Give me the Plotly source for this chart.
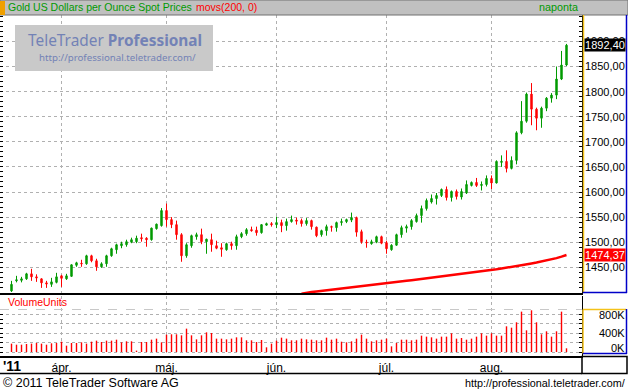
import pandas as pd
import plotly.graph_objects as go

# ---------------- data ----------------
dates = pd.bdate_range("2011-03-18", "2011-08-22")
month_labels = ["ápr.", "máj.", "jún.", "júl.", "aug."]

open_ = [1403, 1423, 1424, 1427, 1437, 1431, 1427, 1419, 1416, 1420,
         1433, 1427, 1432, 1454, 1458, 1457, 1473, 1463, 1451, 1457,
         1473, 1485, 1493, 1495, 1500, 1501, 1509, 1508, 1505, 1527,
         1533, 1563, 1545, 1535, 1515, 1473, 1493, 1511, 1515, 1501,
         1505, 1493, 1489, 1485, 1497, 1493, 1511, 1517, 1525, 1524,
         1519, 1534, 1537, 1535, 1539, 1533, 1541, 1544, 1543, 1537,
         1543, 1530, 1515, 1523, 1531, 1529, 1539, 1541, 1544, 1549,
         1521, 1500, 1497, 1500, 1511, 1499, 1485, 1494, 1515, 1528,
         1531, 1541, 1553, 1567, 1580, 1587, 1593, 1605, 1589, 1601,
         1590, 1598, 1613, 1619, 1613, 1615, 1627, 1618, 1659, 1661,
         1647, 1663, 1718, 1741, 1795, 1765, 1747, 1767, 1787, 1793,
         1825, 1853]
high = [1423, 1433, 1431, 1439, 1447, 1436, 1428, 1423, 1429, 1439,
        1435, 1437, 1456, 1461, 1465, 1475, 1475, 1467, 1460, 1475,
        1489, 1497, 1501, 1505, 1509, 1513, 1517, 1510, 1529, 1537,
        1568, 1577, 1550, 1543, 1518, 1498, 1515, 1519, 1527, 1507,
        1517, 1503, 1498, 1499, 1501, 1515, 1520, 1528, 1531, 1531,
        1536, 1539, 1540, 1551, 1545, 1547, 1553, 1549, 1547, 1548,
        1545, 1531, 1525, 1535, 1533, 1541, 1547, 1547, 1559, 1551,
        1525, 1505, 1505, 1513, 1513, 1503, 1496, 1517, 1533, 1535,
        1546, 1557, 1573, 1587, 1595, 1598, 1607, 1611, 1603, 1605,
        1607, 1623, 1621, 1628, 1621, 1633, 1633, 1663, 1673, 1683,
        1671, 1721, 1781, 1798, 1817, 1768, 1770, 1789, 1797, 1850,
        1881, 1895]
low = [1401, 1420, 1420, 1425, 1423, 1421, 1409, 1409, 1411, 1418,
       1411, 1425, 1431, 1451, 1451, 1455, 1460, 1443, 1449, 1451,
       1471, 1477, 1488, 1491, 1498, 1498, 1501, 1491, 1503, 1525,
       1531, 1531, 1528, 1505, 1461, 1469, 1489, 1505, 1496, 1477,
       1481, 1486, 1471, 1483, 1485, 1485, 1508, 1513, 1521, 1513,
       1517, 1533, 1531, 1528, 1520, 1523, 1539, 1535, 1531, 1533,
       1525, 1510, 1511, 1513, 1521, 1521, 1533, 1538, 1540, 1511,
       1497, 1489, 1495, 1498, 1496, 1477, 1483, 1493, 1509, 1519,
       1525, 1539, 1539, 1563, 1577, 1575, 1590, 1583, 1581, 1585,
       1585, 1596, 1611, 1610, 1603, 1611, 1606, 1617, 1650, 1639,
       1645, 1655, 1715, 1738, 1733, 1723, 1728, 1761, 1778, 1785,
       1823, 1851]
close = [1416, 1425, 1427, 1437, 1431, 1429, 1419, 1417, 1421, 1431,
         1428, 1433, 1455, 1459, 1457, 1473, 1463, 1451, 1457, 1473,
         1487, 1495, 1497, 1501, 1505, 1508, 1507, 1505, 1528, 1536,
         1563, 1545, 1535, 1515, 1473, 1495, 1513, 1515, 1501, 1506,
         1495, 1488, 1486, 1497, 1493, 1511, 1517, 1525, 1523, 1519,
         1535, 1537, 1535, 1539, 1533, 1541, 1545, 1542, 1537, 1543,
         1531, 1513, 1523, 1531, 1530, 1539, 1541, 1545, 1549, 1520,
         1501, 1499, 1501, 1511, 1498, 1487, 1494, 1515, 1529, 1531,
         1543, 1553, 1567, 1583, 1587, 1593, 1605, 1589, 1601, 1591,
         1601, 1615, 1619, 1613, 1615, 1627, 1618, 1661, 1661, 1647,
         1663, 1718, 1741, 1795, 1765, 1747, 1767, 1787, 1793, 1825,
         1853, 1892.40]

# 200-day moving average (only the visible part is known)
ma200 = [None] * 58 + [
    1397.5, 1399.5, 1400.6, 1401.9, 1403.0, 1404.1, 1405.3, 1406.5, 1407.6,
    1408.8, 1410.0, 1411.2, 1412.4, 1413.5, 1414.6, 1415.8, 1417.0, 1418.3, 1419.4,
    1420.6, 1421.9, 1423.1, 1424.3, 1425.5, 1426.8, 1428.0, 1429.3, 1430.6, 1431.8,
    1433.0, 1434.3, 1435.5, 1436.8, 1438.0, 1439.3, 1440.6, 1441.8, 1443.1, 1444.5,
    1446.0, 1447.6, 1449.1, 1450.7, 1452.3, 1454.0, 1455.8, 1457.7, 1459.6, 1461.6,
    1463.6, 1465.8, 1468.3, 1471.2, 1474.37]

volume = [179, 157, 157, 171, 179, 193, 179, 157, 186, 193,
          221, 136, 193, 193, 207, 179, 221, 243, 214, 243,
          243, 264, 207, 229, 229, 29, 214, 214, 264, 286,
          207, 371, 379, 379, 357, 500, 357, 271, 357, 421,
          407, 286, 286, 271, 286, 314, 314, 250, 250, 214,
          257, 100, 179, 243, 307, 286, 250, 250, 286, 271,
          264, 250, 250, 307, 264, 286, 221, 207, 229, 286,
          371, 286, 229, 250, 264, 286, 121, 193, 264, 264,
          250, 264, 350, 329, 314, 286, 329, 329, 400, 286,
          300, 264, 286, 329, 400, 350, 400, 350, 350, 550,
          521, 636, 864, 464, 893, 636, 379, 443, 329, 443,
          864, 79]
volume = [v * 1000 for v in volume]

price_ticks = [1450, 1500, 1550, 1600, 1650, 1700, 1750, 1800, 1850, 1900]
vol_grid = [0, 200000, 400000, 600000, 800000]
vol_label_vals = [0, 400000, 800000]
vol_label_text = ["0K", "400K", "800K"]

# ---------------- styling ----------------
W, H = 628, 392
GREEN = "#009a00"
RED = "#ff0000"
GRID = "#b0b0b0"
YELLOW = "#f4c21a"
BLUE = "#0000c8"
ARIAL = "Liberation Sans, Arial, sans-serif"
WM = "Noto Sans, DejaVu Sans, sans-serif"
WM_COLOR = "#7382b6"


def px(x):
    return x / W


def py(y):
    return 1 - y / H


x = list(range(len(dates)))
month_idx = [i for i in range(1, len(dates)) if dates[i].month != dates[i - 1].month]

fig = go.Figure()
fig.add_trace(go.Candlestick(
    x=x, open=open_, high=high, low=low, close=close,
    increasing=dict(line=dict(color=GREEN, width=1), fillcolor=GREEN),
    decreasing=dict(line=dict(color=RED, width=1), fillcolor=RED),
    whiskerwidth=0, xaxis="x", yaxis="y", hoverinfo="skip", showlegend=False))
fig.add_trace(go.Scatter(
    x=x, y=ma200, mode="lines", line=dict(color=RED, width=2.5),
    xaxis="x", yaxis="y", hoverinfo="skip", showlegend=False))
fig.add_trace(go.Bar(
    x=x, y=volume, width=0.28, marker=dict(color=RED, line=dict(width=0)),
    xaxis="x2", yaxis="y2", hoverinfo="skip", showlegend=False))

xdom = [0, px(582)]
xr = [-2.3, 114.1]
common_x = dict(domain=xdom, range=xr, tickmode="array", tickvals=month_idx,
                showgrid=True, gridcolor=GRID, griddash="dot", gridwidth=1,
                showline=True, linecolor="black", linewidth=2, zeroline=False,
                ticks="", fixedrange=True)

fig.update_layout(
    width=W, height=H, margin=dict(l=0, r=0, t=0, b=0),
    paper_bgcolor="white", plot_bgcolor="white",
    separators=",.", boxgap=0.6, showlegend=False,
    font=dict(family=ARIAL, color="black"),
    xaxis=dict(**common_x, anchor="y", showticklabels=False,
               rangeslider=dict(visible=False)),
    xaxis2=dict(**common_x, anchor="y2", ticktext=month_labels,
                tickfont=dict(family=ARIAL, size=12, color="black")),
    yaxis=dict(domain=[py(293), py(15)], range=[1398.8, 1952.6], side="right",
               anchor="x", tickmode="array", tickvals=price_ticks,
               showticklabels=False, ticks="inside", ticklen=3, tickcolor="black",
               showline=True, linecolor="black", linewidth=1, mirror="ticks",
               showgrid=True, gridcolor=GRID, griddash="dot", zeroline=False,
               minor=dict(dtick=10, tick0=0, ticks="inside", ticklen=3,
                          tickcolor="black", showgrid=False),
               fixedrange=True),
    yaxis2=dict(domain=[py(356), py(296)], range=[-85653, 1199143], side="right",
                anchor="x2", tickmode="array", tickvals=vol_grid,
                showticklabels=False, ticks="inside", ticklen=3, tickcolor="black",
                showline=True, linecolor="black", linewidth=1, mirror="ticks",
                showgrid=True, gridcolor=GRID, griddash="dot", zeroline=False,
                minor=dict(tickmode="array",
                           tickvals=[k * 100000 for k in range(10)],
                           ticks="inside", ticklen=3, tickcolor="black",
                           showgrid=False),
                fixedrange=True),
)

shapes = []


def line(x0, y0, x1, y1, color, w=1, dash=None):
    d = dict(type="line", xref="paper", yref="paper", x0=px(x0), y0=py(y0),
             x1=px(x1), y1=py(y1), line=dict(color=color, width=w), layer="above")
    if dash:
        d["line"]["dash"] = dash
    shapes.append(d)


# header bar
shapes.append(dict(type="rect", xref="paper", yref="paper", x0=px(0), x1=px(628),
                   y0=py(15), y1=py(0), fillcolor="#c0c0c0",
                   line=dict(color="#707070", width=1), layer="above"))
shapes.append(dict(type="rect", xref="paper", yref="paper", x0=px(0), x1=px(5),
                   y0=py(15), y1=py(1), fillcolor="#f0a000",
                   line=dict(width=0), layer="above"))
# watermark box
shapes.append(dict(type="rect", xref="paper", yref="paper", x0=px(15), x1=px(213),
                   y0=py(71), y1=py(25), fillcolor="#c9c9c9",
                   line=dict(width=0), layer="above"))
# price label panel
line(583.5, 15, 583.5, 292.5, YELLOW, 1.5)
line(626.5, 15, 626.5, 293, BLUE, 1.5)
line(583, 292.5, 627, 292.5, BLUE, 1.5)
# volume label panel
line(583, 309.5, 626, 309.5, YELLOW, 1.5)
line(583, 309.5, 583, 353.5, YELLOW, 1.5)
line(626.5, 309, 626.5, 354, BLUE, 1.5)
line(583, 353.5, 627, 353.5, BLUE, 1.5)
# extra dashed reference line in volume panel
line(0, 309.5, 582, 309.5, "#c8c8c8", 1, "dash")
# date row frame
line(0, 373.5, 582, 373.5, "black", 1.5)
shapes.append(dict(type="rect", xref="paper", yref="paper", x0=px(582), x1=px(627),
                   y0=py(373.5), y1=py(356.5), fillcolor="rgba(0,0,0,0)",
                   line=dict(color="black", width=1.5), layer="above"))
fig.update_layout(shapes=shapes)

ann = []


def text(x, y, s, size, color, family=ARIAL, xanchor="left", **kw):
    ann.append(dict(xref="paper", yref="paper", x=px(x), y=py(y), text=s,
                    showarrow=False, xanchor=xanchor, yanchor="middle",
                    font=dict(family=family, size=size, color=color), **kw))


text(6, 7.5, "Gold US Dollars per Ounce Spot Prices", 10.5, "#009a00")
text(194, 7.5, "movs(200, 0)", 10.5, RED)
text(580, 7.5, "naponta", 10.8, "#009a00", xanchor="right")
text(6, 302, "VolumeUnits", 10.5, RED)
text(26, 41, "TeleTrader <b>Professional</b>", 15.4, WM_COLOR, family=WM)
text(198, 57, "http://professional.teletrader.com/", 9.7, WM_COLOR,
     family=WM, xanchor="right")
text(1, 366, "<b>'11</b>", 14, "black")
text(1, 382.5, "© 2011 TeleTrader Software AG", 12.5, "black")
text(627, 382.5, "http://professional.teletrader.com/", 10.8, "black", xanchor="right")

# price scale labels
for v in price_ticks:
    ann.append(dict(xref="paper", yref="y", x=px(625.5), y=v, xanchor="right",
                    yanchor="middle", text=f"{v:.2f}".replace(".", ","),
                    showarrow=False, borderpad=0,
                    font=dict(family=ARIAL, size=11, color="black")))
# volume scale labels
for v, t in zip(vol_label_vals, vol_label_text):
    ann.append(dict(xref="paper", yref="y2", x=px(625.5), y=v, xanchor="right",
                    yanchor="middle", text=t, showarrow=False, borderpad=0,
                    yshift=4 if v == 0 else 0,
                    font=dict(family=ARIAL, size=11, color="black")))

# value tags on the price scale
last_close = close[-1]
last_ma = ma200[-1]
for val, bg in [(last_close, "black"), (last_ma, RED)]:
    ann.append(dict(xref="paper", yref="y", x=px(583.5), y=val, xanchor="left",
                    yanchor="middle", text=f"{val:.2f}".replace(".", ","),
                    showarrow=False, bgcolor=bg, width=40, height=12, borderpad=0,
                    align="center", font=dict(family=ARIAL, size=11, color="white")))
fig.update_layout(annotations=ann)

fig.write_html("out.html", config={"staticPlot": True},
               post_script="document.body.style.margin='0';document.body.style.overflow='hidden';")
